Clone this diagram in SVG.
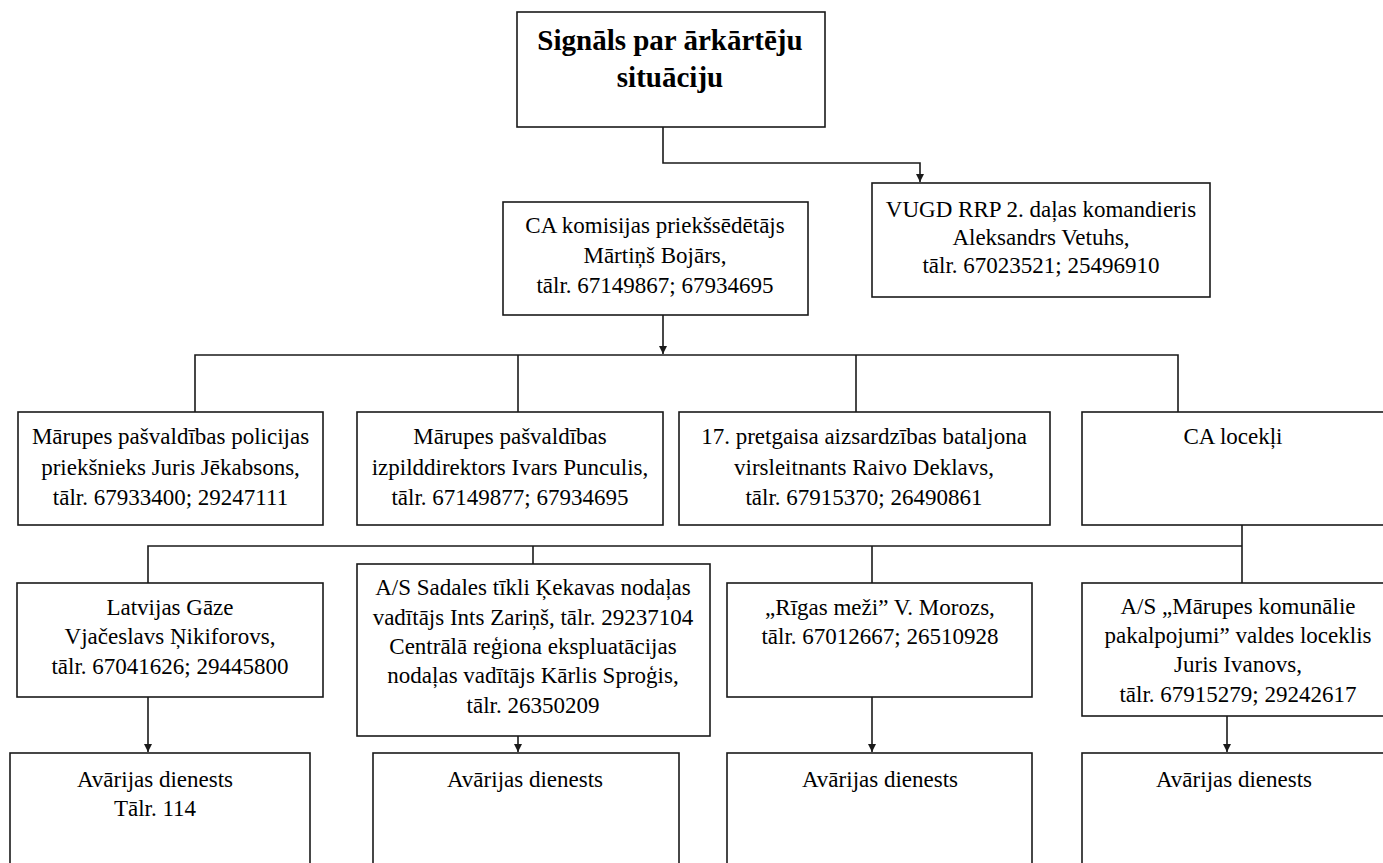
<svg xmlns="http://www.w3.org/2000/svg" width="1383" height="863" viewBox="0 0 1383 863">
<style>
.box{fill:#fff;stroke:#1a1a1a;stroke-width:1.6}
.t{font-size:23px;fill:#000;text-anchor:middle}
.tb{font-size:29px;font-weight:bold;fill:#000;text-anchor:middle}
.ln{fill:none;stroke:#1a1a1a;stroke-width:1.6}
</style>
<defs>
<marker id="arr" viewBox="0 0 10 10" refX="10" refY="5" markerWidth="8" markerHeight="8" markerUnits="userSpaceOnUse" orient="auto">
<path d="M0,0 L10,5 L0,10 z" fill="#1a1a1a"/>
</marker>
</defs>
<rect width="1383" height="863" fill="#fff"/>
<g id="connectors">
<path class="ln" d="M663,127 V163 H920 V182" marker-end="url(#arr)"/>
<path class="ln" d="M663,315 V354" marker-end="url(#arr)"/>
<path class="ln" d="M195,412 V355 H1178 V412"/>
<path class="ln" d="M518,355 V412"/>
<path class="ln" d="M856,355 V412"/>
<path class="ln" d="M1242,525 V583"/>
<path class="ln" d="M148,583 V546 H1242"/>
<path class="ln" d="M533,546 V564"/>
<path class="ln" d="M872,546 V583"/>
<path class="ln" d="M148,697 V752" marker-end="url(#arr)"/>
<path class="ln" d="M518,736 V752" marker-end="url(#arr)"/>
<path class="ln" d="M872,697 V752" marker-end="url(#arr)"/>
<path class="ln" d="M1227,716 V752" marker-end="url(#arr)"/>
</g>
<g font-family="Liberation Serif, Times New Roman, serif">
<g id="signal">
<rect class="box" x="517" y="12" width="308" height="115"/>
<text class="tb" x="670" y="50">Signāls par ārkārtēju</text>
<text class="tb" x="670" y="87">situāciju</text>
</g>
<g id="vugd">
<rect class="box" x="872" y="183" width="338" height="114"/>
<text class="t" x="1041" y="217">VUGD RRP 2. daļas komandieris</text>
<text class="t" x="1041" y="245">Aleksandrs Vetuhs,</text>
<text class="t" x="1041" y="273">tālr. 67023521; 25496910</text>
</g>
<g id="ca-chair">
<rect class="box" x="503" y="202" width="305" height="113"/>
<text class="t" x="655" y="233">CA komisijas priekšsēdētājs</text>
<text class="t" x="655" y="263">Mārtiņš Bojārs,</text>
<text class="t" x="655" y="293">tālr. 67149867; 67934695</text>
</g>
<g id="police">
<rect class="box" x="18" y="412" width="305" height="113"/>
<text class="t" x="170.5" y="444">Mārupes pašvaldības policijas</text>
<text class="t" x="170.5" y="475">priekšnieks Juris Jēkabsons,</text>
<text class="t" x="170.5" y="505">tālr. 67933400; 29247111</text>
</g>
<g id="director">
<rect class="box" x="357" y="412" width="306" height="113"/>
<text class="t" x="510" y="444">Mārupes pašvaldības</text>
<text class="t" x="510" y="475">izpilddirektors Ivars Punculis,</text>
<text class="t" x="510" y="505">tālr. 67149877; 67934695</text>
</g>
<g id="battalion">
<rect class="box" x="679" y="412" width="371" height="113"/>
<text class="t" x="864" y="444">17. pretgaisa aizsardzības bataljona</text>
<text class="t" x="864" y="475">virsleitnants Raivo Deklavs,</text>
<text class="t" x="864" y="505">tālr. 67915370; 26490861</text>
</g>
<g id="ca-members">
<rect class="box" x="1082" y="412" width="303" height="113"/>
<text class="t" x="1233" y="444">CA locekļi</text>
</g>
<g id="gas">
<rect class="box" x="17" y="583" width="306" height="114"/>
<text class="t" x="170" y="615">Latvijas Gāze</text>
<text class="t" x="170" y="644">Vjačeslavs Ņikiforovs,</text>
<text class="t" x="170" y="674">tālr. 67041626; 29445800</text>
</g>
<g id="grid">
<rect class="box" x="357" y="564" width="353" height="172"/>
<text class="t" x="533" y="595">A/S Sadales tīkli Ķekavas nodaļas</text>
<text class="t" x="533" y="625">vadītājs Ints Zariņš, tālr. 29237104</text>
<text class="t" x="533" y="654">Centrālā reģiona ekspluatācijas</text>
<text class="t" x="533" y="683">nodaļas vadītājs Kārlis Sproģis,</text>
<text class="t" x="533" y="713">tālr. 26350209</text>
</g>
<g id="forests">
<rect class="box" x="727" y="583" width="305" height="114"/>
<text class="t" x="880" y="615">„Rīgas meži” V. Morozs,</text>
<text class="t" x="880" y="644">tālr. 67012667; 26510928</text>
</g>
<g id="utilities">
<rect class="box" x="1082" y="583" width="310" height="133"/>
<text class="t" x="1238" y="614">A/S „Mārupes komunālie</text>
<text class="t" x="1238" y="643">pakalpojumi” valdes loceklis</text>
<text class="t" x="1238" y="672">Juris Ivanovs,</text>
<text class="t" x="1238" y="702">tālr. 67915279; 29242617</text>
</g>
<g id="emergency1">
<rect class="box" x="10" y="753" width="300" height="120"/>
<text class="t" x="155" y="787">Avārijas dienests</text>
<text class="t" x="155" y="816">Tālr. 114</text>
</g>
<g id="emergency2">
<rect class="box" x="373" y="753" width="306" height="120"/>
<text class="t" x="525" y="787">Avārijas dienests</text>
</g>
<g id="emergency3">
<rect class="box" x="727" y="753" width="305" height="120"/>
<text class="t" x="880" y="787">Avārijas dienests</text>
</g>
<g id="emergency4">
<rect class="box" x="1082" y="753" width="310" height="120"/>
<text class="t" x="1234" y="787">Avārijas dienests</text>
</g>
</g>
</svg>
